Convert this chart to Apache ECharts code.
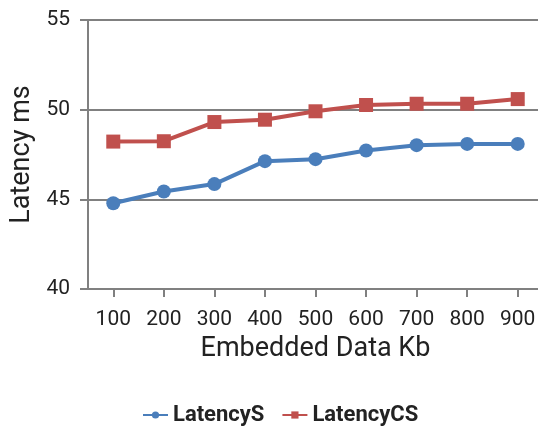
<!DOCTYPE html>
<html>
<head>
<meta charset="utf-8">
<style>
  html, body { margin: 0; padding: 0; background: #fff; }
  #chart { width: 538px; height: 426px; }
</style>
<script src="https://cdn.jsdelivr.net/npm/echarts@6/dist/echarts.min.js"></script>
</head>
<body>
<div id="chart"></div>
<script>
// Embedded data size (Kb) on the x axis
const categories = ['100', '200', '300', '400', '500', '600', '700', '800', '900'];
// Latency in ms for each configuration
const latencyS  = [44.78, 45.44, 45.85, 47.13, 47.24, 47.72, 48.02, 48.09, 48.09];
const latencyCS = [48.22, 48.24, 49.31, 49.44, 49.91, 50.26, 50.33, 50.33, 50.59];

const BLUE = '#4a7ebb';
const RED = '#c0504d';
const FONT = 'Roboto';

const chart = echarts.init(document.getElementById('chart'), null, { renderer: 'canvas' });

chart.setOption({
  animation: false,
  backgroundColor: '#fff',
  textStyle: { fontFamily: FONT },
  grid: { left: 88, width: 455, top: 20, height: 269, outerBoundsMode: 'none', containLabel: false },
  legend: {
    top: 399,
    left: 137,
    itemGap: 17,
    itemWidth: 25,
    itemHeight: 9,
    textStyle: { fontFamily: FONT, fontSize: 22, fontWeight: 'bold', color: '#222' },
    data: ['LatencyS', 'LatencyCS']
  },
  xAxis: {
    type: 'category',
    data: categories,
    boundaryGap: true,
    name: 'Embedded Data Kb',
    nameLocation: 'middle',
    nameGap: 47,
    nameTextStyle: { fontFamily: FONT, fontSize: 27, color: '#222' },
    axisLine: { show: true, lineStyle: { color: '#808080', width: 2 } },
    axisTick: { show: true, alignWithLabel: true, length: 8, lineStyle: { color: '#808080', width: 2 } },
    axisLabel: { fontFamily: FONT, fontSize: 21, color: '#222', margin: 20 },
    splitLine: { show: false }
  },
  yAxis: {
    type: 'value',
    min: 40,
    max: 55,
    interval: 5,
    name: 'Latency ms',
    nameLocation: 'middle',
    nameGap: 48,
    nameRotate: 90,
    nameTextStyle: { fontFamily: FONT, fontSize: 27, color: '#222' },
    axisLine: { show: true, lineStyle: { color: '#808080', width: 2 } },
    axisTick: { show: true, inside: false, length: 8, lineStyle: { color: '#808080', width: 2 } },
    axisLabel: { fontFamily: FONT, fontSize: 21, color: '#222', margin: 18 },
    splitLine: { show: true, lineStyle: { color: '#808080', width: 2 } }
  },
  series: [
    {
      name: 'LatencyS',
      type: 'line',
      data: latencyS,
      symbol: 'circle',
      symbolSize: 14,
      itemStyle: { color: BLUE },
      lineStyle: { color: BLUE, width: 4 }
    },
    {
      name: 'LatencyCS',
      type: 'line',
      data: latencyCS,
      symbol: 'rect',
      symbolSize: 14,
      itemStyle: { color: RED },
      lineStyle: { color: RED, width: 4 }
    }
  ]
});
</script>
</body>
</html>
